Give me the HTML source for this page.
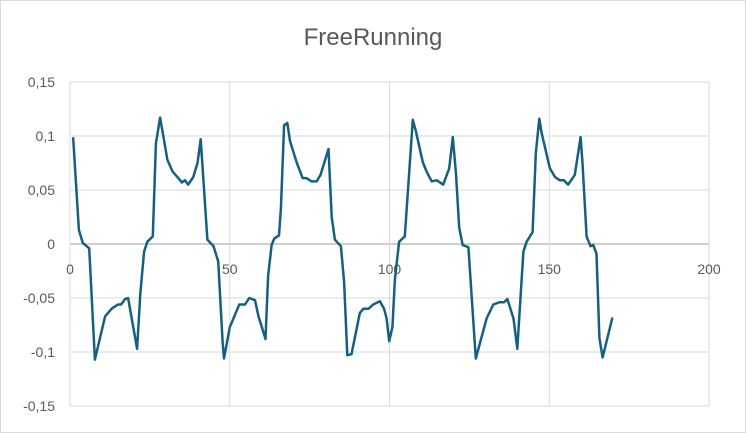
<!DOCTYPE html>
<html><head><meta charset="utf-8"><style>
html,body{margin:0;padding:0;background:#fff}
svg{display:block;font-family:"Liberation Sans",sans-serif}
</style></head><body>
<svg id="chart" width="746" height="433">
<rect x="0.5" y="0.5" width="745" height="432" fill="#fff" stroke="#d9d9d9"/>
<text x="373" y="45" text-anchor="middle" font-size="24" fill="#595959">FreeRunning</text>
<g id="grid"></g><g id="labels"></g><g id="series"></g>
</svg>
<script>
const xTicks=[0,50,100,150,200];
const yTicks=[0.15,0.1,0.05,0,-0.05,-0.1,-0.15];
const yTickLabels=["0,15","0,1","0,05","0","-0,05","-0,1","-0,15"];
const seriesX=[1,2.8,4,6,7.8,11,13,15,16,17.2,18.2,21,22,23.2,24.2,25.9,26.9,28.2,30.5,32.1,33.9,35,36,37,38.6,39.9,40.9,43,44.9,46.4,47.8,48.2,50,53,54.8,56.1,57.9,59,61.2,62,63.1,63.9,65.4,66,67,68,68.9,70.9,72.8,74,75.6,77.2,78.4,80.9,81.9,82.9,84.8,85.8,86.8,88.1,90.7,91.8,93.4,94.9,97,98.3,99.1,99.9,100.9,101.7,103,104.8,107.3,108.3,110.4,111.6,113.2,114.8,116.8,118.7,119.8,120.8,121.8,122.9,124.7,127,130.4,132.5,134.4,135.8,136.9,138.8,140,141.9,142.9,144.8,145.8,146.9,147.6,150.2,151.8,153.3,154.6,155.9,158,159.8,160.4,161.7,162.9,163.8,164.8,165.7,166.7,169.7];
const seriesY=[0.098,0.013,0.001,-0.004,-0.107,-0.067,-0.06,-0.056,-0.056,-0.051,-0.05,-0.097,-0.046,-0.007,0.002,0.007,0.093,0.117,0.078,0.067,0.061,0.057,0.059,0.055,0.062,0.075,0.097,0.004,-0.002,-0.016,-0.092,-0.106,-0.077,-0.056,-0.056,-0.05,-0.052,-0.067,-0.088,-0.03,-0.001,0.005,0.008,0.033,0.11,0.112,0.095,0.076,0.061,0.061,0.058,0.058,0.064,0.088,0.025,0.004,-0.002,-0.035,-0.103,-0.102,-0.064,-0.06,-0.06,-0.056,-0.053,-0.06,-0.069,-0.09,-0.077,-0.033,0.002,0.007,0.115,0.104,0.076,0.067,0.058,0.059,0.055,0.07,0.099,0.065,0.015,-0.001,-0.003,-0.106,-0.069,-0.056,-0.054,-0.054,-0.051,-0.069,-0.097,-0.007,0.002,0.011,0.084,0.116,0.103,0.07,0.062,0.059,0.059,0.055,0.064,0.099,0.075,0.007,-0.002,-0.001,-0.009,-0.087,-0.105,-0.069];
const NS="http://www.w3.org/2000/svg";
const X0=70,X1=709,Y0=82,Y1=406;
function sx(v){return X0+(v-0)/(200-0)*(X1-X0);}
function sy(v){return Y1-(v+0.15)/0.3*(Y1-Y0);}
function mk(t,a,p){const e=document.createElementNS(NS,t);for(const k in a)e.setAttribute(k,a[k]);p.appendChild(e);return e;}
const grid=document.getElementById('grid'),labels=document.getElementById('labels'),series=document.getElementById('series');
yTicks.forEach((v,i)=>{
 const l=mk('line',{x1:X0,x2:X1,y1:sy(v),y2:sy(v),stroke:v===0?'#bfbfbf':'#d9d9d9','stroke-width':v===0?1.5:1},grid);
 
 
 const t=mk('text',{x:55,y:sy(v)+5,'text-anchor':'end','font-size':14,fill:'#595959'},labels);
 t.textContent=yTickLabels[i];
 
 
});
xTicks.forEach(v=>{
 const l=mk('line',{x1:sx(v),x2:sx(v),y1:Y0,y2:Y1,stroke:'#d9d9d9','stroke-width':1},grid);
 
 
 const t=mk('text',{x:sx(v),y:sy(0)+30,'text-anchor':'middle','font-size':14,fill:'#595959'},labels);
 t.textContent=String(v);
 
 
});
const pts=seriesX.map((x,i)=>sx(x).toFixed(1)+','+sy(seriesY[i]).toFixed(1)).join(' ');
const pl=mk('polyline',{points:pts,fill:'none',stroke:'#156082','stroke-width':2.5,'stroke-linejoin':'round','stroke-linecap':'round'},series);


</script>
</body></html>
